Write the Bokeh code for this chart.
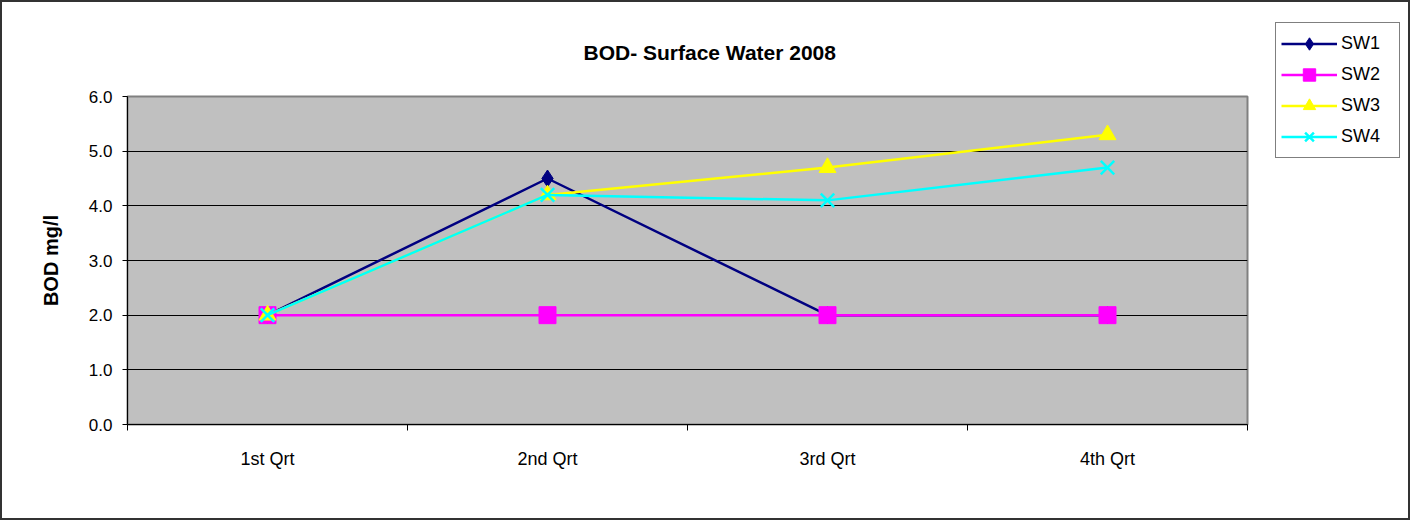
from bokeh.plotting import figure
from bokeh.models import (Range1d, FixedTicker, SingleIntervalTicker, NumeralTickFormatter,
                          Legend, LegendItem, ColumnDataSource)
from bokeh.embed import file_html
from bokeh.resources import INLINE

# ---- data ----
quarters = ["1st Qrt", "2nd Qrt", "3rd Qrt", "4th Qrt"]
sw1 = [2.0, 4.5, 2.0, 2.0]
sw2 = [2.0, 2.0, 2.0, 2.0]
sw3 = [2.0, 4.2, 4.7, 5.3]
sw4 = [2.0, 4.2, 4.1, 4.7]
series_names = ["SW1", "SW2", "SW3", "SW4"]
title_text = "BOD- Surface Water 2008"
y_label = "BOD mg/l"

FONT = "Liberation Sans"

xpos = [i + 0.5 for i in range(len(quarters))]

p = figure(width=1410, height=520, output_backend="svg", toolbar_location=None,
           x_range=Range1d(0, len(quarters)), y_range=Range1d(0, 6),
           min_border_left=125, min_border_right=165, min_border_top=94, min_border_bottom=98)
p.styles = {"border": "2px solid #333333"}

p.background_fill_color = "#C0C0C0"
p.border_fill_color = "white"
p.outline_line_color = "#808080"
p.outline_line_width = 2

# title
p.title.text = title_text
p.title.align = "left"
p.title.offset = 456
p.title.standoff = 66
p.title.text_font = FONT
p.title.text_font_size = "21px"
p.title.text_font_style = "bold"
p.title.text_color = "black"

# grids
p.xgrid.visible = False
p.ygrid.grid_line_color = "black"
p.ygrid.grid_line_width = 1

# y axis
p.yaxis.ticker = SingleIntervalTicker(interval=1, num_minor_ticks=0)
p.yaxis.formatter = NumeralTickFormatter(format="0.0")
p.yaxis.major_tick_out = 5
p.yaxis.major_tick_in = 0
p.yaxis.minor_tick_out = 0
p.yaxis.major_label_standoff = 10
p.yaxis.major_label_text_font = FONT
p.yaxis.major_label_text_font_size = "17px"
p.yaxis.major_label_text_color = "black"
p.yaxis.axis_line_color = "black"
p.yaxis.axis_label = y_label
p.yaxis.axis_label_text_font = FONT
p.yaxis.axis_label_text_font_size = "20px"
p.yaxis.axis_label_text_font_style = "bold"
p.yaxis.axis_label_text_color = "black"
p.yaxis.axis_label_standoff = 24

# x axis
p.xaxis.ticker = FixedTicker(ticks=xpos, minor_ticks=list(range(len(quarters) + 1)))
p.xaxis.major_label_overrides = {x: q for x, q in zip(xpos, quarters)}
p.xaxis.major_tick_out = 0
p.xaxis.major_tick_in = 0
p.xaxis.minor_tick_out = 6
p.xaxis.minor_tick_in = 0
p.xaxis.minor_tick_line_color = "black"
p.xaxis.major_label_standoff = 18
p.xaxis.major_label_text_font = FONT
p.xaxis.major_label_text_font_size = "18px"
p.xaxis.major_label_text_color = "black"
p.xaxis.axis_line_color = "black"

styles = [
    (sw1, "#000080", "diamond", 17, "#000080"),
    (sw2, "#FF00FF", "square", 17, "#FF00FF"),
    (sw3, "#FFFF00", "triangle", 17, "#FFFF00"),
    (sw4, "#00FFFF", "x", 19, None),
]

# separate small figure that only holds the legend, placed at the top right;
# its ranges keep the proxy glyphs out of view so only the legend shows
lf = figure(width=126, height=136, output_backend="svg", toolbar_location=None,
            x_range=Range1d(-20, -10), y_range=Range1d(-20, -10),
            x_axis_type=None, y_axis_type=None, min_border=0)
lf.grid.visible = False
lf.outline_line_color = None
lf.background_fill_color = "white"
lf.border_fill_color = "white"
lf.styles = {"position": "absolute", "left": "1275px", "top": "22px"}

items = []
for name, (vals, col, marker, size, fill) in zip(series_names, styles):
    src = ColumnDataSource(dict(x=xpos, y=vals))
    p.line("x", "y", source=src, line_color=col, line_width=2.5)
    mk = dict(marker=marker, size=size, line_color=col)
    if fill is None:
        mk.update(line_width=2.5)
    else:
        mk.update(fill_color=fill, line_width=1)
    p.scatter("x", "y", source=src, **mk)
    l_line = lf.line("x", "y", source=src, line_color=col, line_width=2.5)
    l_mark = lf.scatter("x", "y", source=src, **mk)
    items.append(LegendItem(label=name, renderers=[l_line, l_mark]))

legend = Legend(items=items, location="top_left", orientation="vertical",
                glyph_width=56, glyph_height=31, label_height=31, spacing=0,
                padding=5, margin=0, label_standoff=4, label_width=53,
                label_text_font=FONT, label_text_font_size="18px",
                label_text_color="black",
                border_line_color="black", border_line_width=1,
                background_fill_color="white", background_fill_alpha=1.0)
lf.add_layout(legend, "center")

open("out.html", "w").write(file_html([p, lf], INLINE))
